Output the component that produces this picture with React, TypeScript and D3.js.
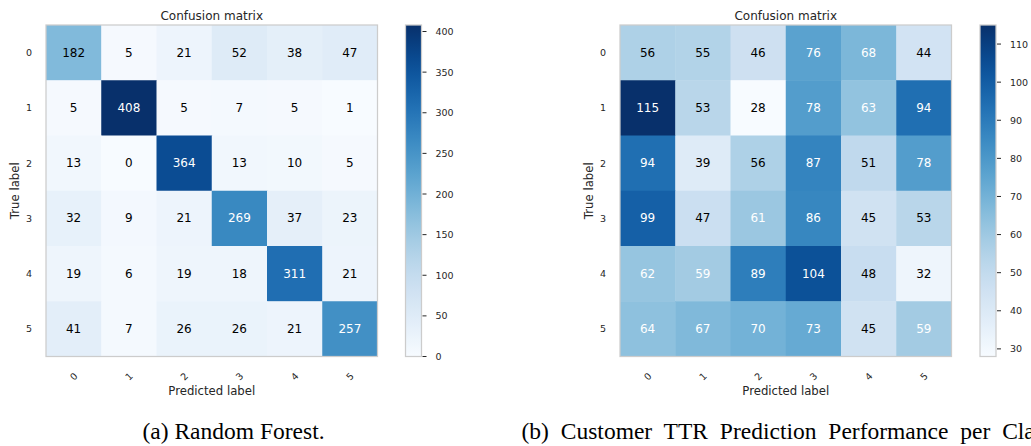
import React from "react";
import * as d3 from "d3";

const classes = ["0", "1", "2", "3", "4", "5"];

const rfMatrix: number[][] = [
  [182, 5, 21, 52, 38, 47],
  [5, 408, 5, 7, 5, 1],
  [13, 0, 364, 13, 10, 5],
  [32, 9, 21, 269, 37, 23],
  [19, 6, 19, 18, 311, 21],
  [41, 7, 26, 26, 21, 257],
];

const ttrMatrix: number[][] = [
  [56, 55, 46, 76, 68, 44],
  [115, 53, 28, 78, 63, 94],
  [94, 39, 56, 87, 51, 78],
  [99, 47, 61, 86, 45, 53],
  [62, 59, 89, 104, 48, 32],
  [64, 67, 70, 73, 45, 59],
];

const rfTicks = [0, 50, 100, 150, 200, 250, 300, 350, 400];
const ttrTicks = [30, 40, 50, 60, 70, 80, 90, 100, 110];

const captionA = "(a) Random Forest.";
const captionB = "(b) Customer TTR Prediction Performance per Class.";

const SANS = "'DejaVu Sans', sans-serif";
const TXT = "#262626";
const FRAME = "#cccccc";

type MatProps = {
  id: string;
  x0: number;
  cbX: number;
  data: number[][];
  ticks: number[];
};

function Matrix({ id, x0, cbX, data, ticks }: MatProps) {
  const y0 = 25;
  const size = 331.5;
  const flat = data.flat();
  const vmin = d3.min(flat) as number;
  const vmax = d3.max(flat) as number;
  const color = d3.scaleSequential(d3.interpolateBlues).domain([vmin, vmax]);
  const xs = d3.scaleBand<string>().domain(classes).range([x0, x0 + size]);
  const ys = d3.scaleBand<string>().domain(classes).range([y0, y0 + size]);
  const cbW = 16;
  const cbScale = d3.scaleLinear().domain([vmin, vmax]).range([y0 + size, y0]);
  const thresh = vmax / 2;
  const stops = d3.range(0, 1.0001, 0.05);
  const cx = x0 + size / 2;

  return (
    <g>
      <defs>
        <linearGradient id={id} x1="0" y1="1" x2="0" y2="0">
          {stops.map((t) => (
            <stop key={t} offset={t} stopColor={d3.interpolateBlues(t)} />
          ))}
        </linearGradient>
      </defs>
      <text x={cx} y={20} textAnchor="middle" fontSize={12} fill={TXT} fontFamily={SANS}>
        Confusion matrix
      </text>
      {data.map((row, i) =>
        row.map((v, j) => (
          <rect
            key={`${i}-${j}`}
            x={xs(classes[j])}
            y={ys(classes[i])}
            width={xs.bandwidth() + 0.5}
            height={ys.bandwidth() + 0.5}
            fill={color(v)}
          />
        ))
      )}
      {data.map((row, i) =>
        row.map((v, j) => (
          <text
            key={`t${i}-${j}`}
            x={(xs(classes[j]) as number) + xs.bandwidth() / 2}
            y={(ys(classes[i]) as number) + ys.bandwidth() / 2}
            textAnchor="middle"
            dominantBaseline="central"
            fontSize={12}
            fontFamily={SANS}
            fill={v > thresh ? "#ffffff" : "#000000"}
          >
            {v}
          </text>
        ))
      )}
      <rect x={x0} y={y0} width={size} height={size} fill="none" stroke={FRAME} strokeWidth={1.25} />
      {classes.map((c) => (
        <text
          key={`yl${c}`}
          x={x0 - 14}
          y={(ys(c) as number) + ys.bandwidth() / 2}
          textAnchor="end"
          dominantBaseline="central"
          fontSize={9.5}
          fill={TXT}
          fontFamily={SANS}
        >
          {c}
        </text>
      ))}
      {classes.map((c) => (
        <text
          key={`xl${c}`}
          transform={`translate(${(xs(c) as number) + xs.bandwidth() / 2},${y0 + size + 20}) rotate(-45)`}
          textAnchor="middle"
          dominantBaseline="central"
          fontSize={9.5}
          fill={TXT}
          fontFamily={SANS}
        >
          {c}
        </text>
      ))}
      <text x={cx} y={395} textAnchor="middle" fontSize={11.7} fill={TXT} fontFamily={SANS}>
        Predicted label
      </text>
      <text
        transform={`translate(${x0 - 27},${y0 + size / 2}) rotate(-90)`}
        textAnchor="middle"
        fontSize={11.7}
        fill={TXT}
        fontFamily={SANS}
      >
        True label
      </text>
      <rect x={cbX} y={y0} width={cbW} height={size} fill={`url(#${id})`} />
      <rect x={cbX} y={y0} width={cbW} height={size} fill="none" stroke={FRAME} strokeWidth={1.25} />
      {ticks.map((t) => (
        <g key={`cb${t}`}>
          <line x1={cbX + cbW + 1} x2={cbX + cbW + 5} y1={cbScale(t)} y2={cbScale(t)} stroke={TXT} strokeWidth={1} />
          <text
            x={cbX + cbW + 14}
            y={cbScale(t)}
            dominantBaseline="central"
            fontSize={9.5}
            fill={TXT}
            fontFamily={SANS}
          >
            {t}
          </text>
        </g>
      ))}
    </g>
  );
}

export default function App() {
  return (
    <svg
      width={1031}
      height={446}
      style={{ position: "absolute", left: 0, top: 0, background: "#ffffff" }}
    >
      <rect x={0} y={0} width={1031} height={446} fill="#ffffff" />
      <Matrix id="gradA" x0={46} cbX={405.5} data={rfMatrix} ticks={rfTicks} />
      <Matrix id="gradB" x0={620} cbX={980} data={ttrMatrix} ticks={ttrTicks} />
      <text
        x={233.5}
        y={439}
        textAnchor="middle"
        fontSize={23.5}
        fill="#000"
        fontFamily="'Liberation Serif', 'Times New Roman', serif"
      >
        {captionA}
      </text>
      <text
        x={521.5}
        y={439}
        fontSize={23.5}
        wordSpacing={6}
        fill="#000"
        fontFamily="'Liberation Serif', 'Times New Roman', serif"
      >
        {captionB}
      </text>
    </svg>
  );
}
